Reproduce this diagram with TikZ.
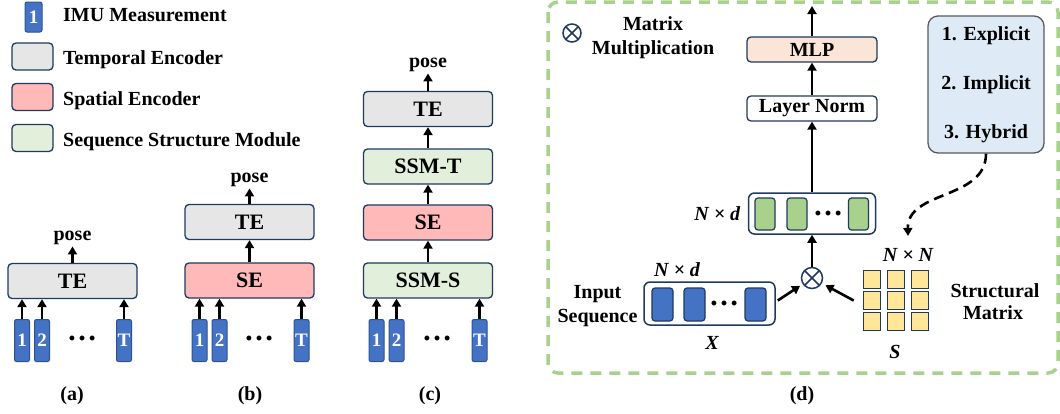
\documentclass[tikz,border=0pt]{standalone}
\usepackage{fontspec}
\setmainfont{Liberation Serif}
\usetikzlibrary{arrows.meta,positioning}
\definecolor{navy}{HTML}{1F3A60}
\definecolor{tokblue}{HTML}{4472C4}
\definecolor{tokline}{HTML}{2F528F}
\definecolor{tegray}{HTML}{E7E6E6}
\definecolor{sepink}{HTML}{FFB9B9}
\definecolor{ssmgreen}{HTML}{E2EFDA}
\definecolor{mlppeach}{HTML}{FBE5D6}
\definecolor{seqgreen}{HTML}{A9D18E}
\definecolor{cellyellow}{HTML}{FFE699}
\definecolor{typeblue}{HTML}{DEEBF7}
\definecolor{typeline}{HTML}{595959}
\definecolor{framegreen}{HTML}{A9D18E}
\newcommand{\setfs}[1]{\fontsize{#1}{#1}\selectfont\bfseries}

\begin{document}
\begin{tikzpicture}[x=1pt,y=-1pt,
    every node/.style={font=\setfs{20}},
    blk/.style={draw=navy,line width=1.3pt,rounded corners=4pt,minimum width=129pt,minimum height=35pt,inner sep=0pt,font=\setfs{22}},
    tebox/.style={blk,fill=tegray},
    sebox/.style={blk,fill=sepink},
    ssmbox/.style={blk,fill=ssmgreen},
    token/.style={draw=tokline,fill=tokblue,line width=1pt,rounded corners=2pt,minimum width=15pt,minimum height=42pt,inner sep=0pt,text=white,font=\setfs{19}},
    arr/.style={-{Triangle[length=8pt,width=9pt]},line width=2.6pt},
    lbl/.style={anchor=base west,inner sep=0pt},
    pose/.style={anchor=base,inner sep=2pt},
    txt/.style={anchor=base,inner sep=0pt},
    ell/.style={font=\setfs{30},inner sep=0pt},
    dim/.style={font=\setfs{20}\itshape},
    seqbox/.style={draw=navy,line width=1.5pt,rounded corners=6pt,fill=white,inner sep=0pt},
    gcell/.style={draw=navy,fill=seqgreen,line width=1.2pt,rounded corners=3pt,minimum width=20pt,minimum height=32pt,inner sep=0pt},
    bcell/.style={draw=navy,fill=tokblue,line width=1.2pt,rounded corners=3pt,minimum width=21pt,minimum height=33pt,inner sep=0pt},
    scell/.style={draw=navy,fill=cellyellow,line width=1.2pt,minimum size=17.5pt,inner sep=0pt},
    layer/.style={draw=navy,line width=1.3pt,rounded corners=4pt,minimum width=130pt,minimum height=25pt,inner sep=0pt},
    otimes/.style={circle,draw=navy,line width=1.5pt,fill=white,inner sep=0pt,minimum size=#1,
        path picture={\draw[navy,line width=1.5pt]
            (path picture bounding box.north west) -- (path picture bounding box.south east)
            (path picture bounding box.south west) -- (path picture bounding box.north east);}},
    dframe/.style={draw=framegreen,line width=3.5pt,dash pattern=on 11pt off 8pt,rounded corners=10pt}
]
\useasboundingbox (0,0) rectangle (1060,413);

% legend
\node[token,minimum height=30pt,minimum width=17pt] (lgTok) at (33.5,17) {1};
\node[lbl] at (63,21) {IMU Measurement};
\node[tebox,minimum width=41pt,minimum height=27pt] (lgTE) at (32.5,56.5) {};
\node[lbl] at (63,64) {Temporal Encoder};
\node[sebox,minimum width=41pt,minimum height=27pt] (lgSE) at (32.5,97) {};
\node[lbl] at (63,105) {Spatial Encoder};
\node[ssmbox,minimum width=41pt,minimum height=27pt] (lgSSM) at (32.5,138) {};
\node[lbl] at (63,146) {Sequence Structure Module};

% (a)
\node[tebox] (aTE) at (72.5,281) {TE};
\node[pose] (aPose) at (72.5,240) {pose};
\draw[arr] (aTE) -- (aPose);
\foreach \x/\t [count=\n] in {22/1,42/2,124/T} {
    \node[token] (a\n) at (\x,340.5) {\t};
    \draw[arr] (a\n) -- (a\n |- aTE.south);
}
\node[ell] (aDots) at (82,338) {…};
\node (capA) at (72,396) {(a)};

% (b)
\node[sebox] (bSE) at (249.5,280.5) {SE};
\node[tebox] (bTE) at (249.5,222) {TE};
\node[pose] (bPose) at (249.5,182) {pose};
\draw[arr] (bSE) -- (bTE);
\draw[arr] (bTE) -- (bPose);
\foreach \x/\t [count=\n] in {199.5/1,219.5/2,301.5/T} {
    \node[token] (b\n) at (\x,340.5) {\t};
    \draw[arr] (b\n) -- (b\n |- bSE.south);
}
\node[ell] (bDots) at (259,338) {…};
\node (capB) at (250,396) {(b)};

% (c)
\node[ssmbox] (cSSMS) at (428,280.5) {SSM-S};
\node[sebox] (cSE) at (428,222.5) {SE};
\node[ssmbox] (cSSMT) at (428,166.5) {SSM-T};
\node[tebox] (cTE) at (428,109) {TE};
\node[pose] (cPose) at (428,67) {pose};
\draw[arr] (cSSMS) -- (cSE);
\draw[arr] (cSE) -- (cSSMT);
\draw[arr] (cSSMT) -- (cTE);
\draw[arr] (cTE) -- (cPose);
\foreach \x/\t [count=\n] in {376.5/1,396.5/2,479.5/T} {
    \node[token] (c\n) at (\x,340.5) {\t};
    \draw[arr] (c\n) -- (c\n |- cSSMS.south);
}
\node[ell] (cDots) at (437,338) {…};
\node (capC) at (430,396) {(c)};

% (d)
\draw[dframe] (548,2) rectangle (1058,373);
\node[otimes=18pt] (lgMul) at (572,33) {};
\node[txt] (lgMulA) at (653,30) {Matrix};
\node[txt] (lgMulB) at (653,54) {Multiplication};

\node[layer,fill=mlppeach] (mlp) at (812,49.5) {MLP};
\node[layer,fill=white] (ln) at (812,108.5) {Layer Norm};
\coordinate (out) at (812,6);
\draw[arr] (mlp) -- (out);
\draw[arr] (ln) -- (mlp);

\node[seqbox,minimum width=127pt,minimum height=41pt] (gseq) at (812,213.5) {};
\node[gcell] (g1) at (765,214) {};
\node[gcell] (g2) at (797,214) {};
\node[gcell] (g3) at (858.5,214) {};
\node[ell] (gDots) at (828,213) {…};
\node[dim,left=4pt of gseq] (gDim) {N × d};
\draw[arr] (gseq) -- (ln);

\node[otimes=21pt] (mul) at (812,278) {};
\draw[arr] (mul) -- (gseq);

\node[seqbox,minimum width=131pt,minimum height=43pt] (bseq) at (709.5,303.5) {};
\node[bcell] (x1) at (662.5,304.5) {};
\node[bcell] (x2) at (694.5,304.5) {};
\node[bcell] (x3) at (755.5,304.5) {};
\node[ell] (xDots) at (724,303) {…};
\node[dim] (xDim) at (677,270) {N × d};
\node[dim] (xName) at (712,343) {X};
\node[txt] (inA) at (597.5,298) {Input};
\node[txt] (inB) at (597.5,322) {Sequence};
\draw[arr,shorten >=3pt] ([xshift=2pt,yshift=3pt]bseq.east) -- (mul);

\foreach \i in {0,1,2} {
    \foreach \j in {0,1,2} {
        \node[scell] (s\i\j) at (872+24*\i,279.5+21*\j) {};
    }
}
\node[dim] (sDim) at (908,255) {N × N};
\node[dim] (sName) at (895,352) {S};
\node[txt] (sLblA) at (995,297) {Structural};
\node[txt] (sLblB) at (993,319) {Matrix};
\draw[arr,shorten >=4pt] ([xshift=-9pt]s01.west) -- (mul);

\node[draw=typeline,fill=typeblue,line width=1.3pt,rounded corners=10pt,minimum width=116pt,minimum height=137pt,align=center] (types) at (986,84.5) {1. Explicit\\[29pt]2. Implicit\\[29pt]3. Hybrid};
\draw[arr,dash pattern=on 10pt off 6pt] (types.south) .. controls (986,200) and (907,190) .. ([yshift=9pt]sDim.north);

\node (capD) at (802,396) {(d)};
\end{tikzpicture}
\end{document}
